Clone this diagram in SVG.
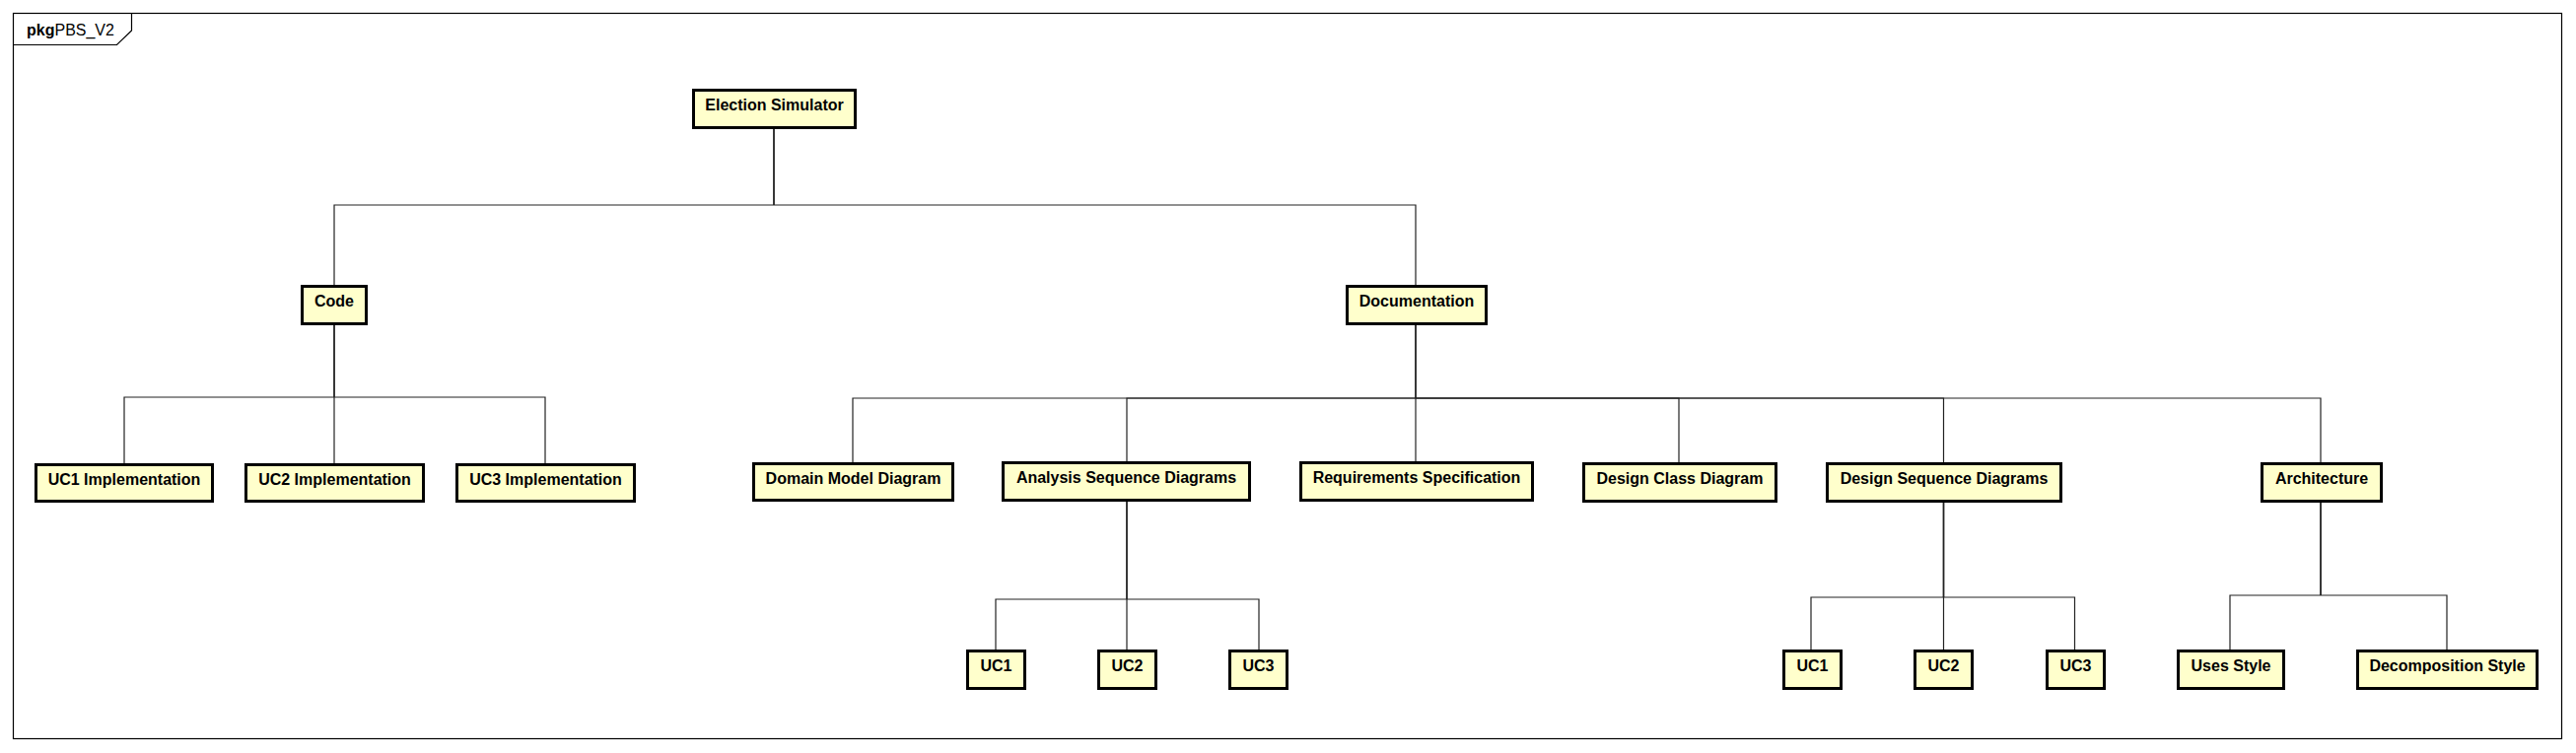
<svg xmlns="http://www.w3.org/2000/svg" width="2613" height="764" viewBox="0 0 2613 764">
<style>
.box rect{fill:#FFFFCC;stroke:#000;stroke-width:3}
.box text{font-family:"Liberation Sans",Arial,sans-serif;font-weight:bold;font-size:16px;fill:#000;text-anchor:middle}
.conn path{fill:none;stroke:#222;stroke-width:1.2}
.conn path.trunk{stroke-width:1.8}
.frame{fill:none;stroke:#000;stroke-width:1.2}
.ftext{font-family:"Liberation Sans",Arial,sans-serif;font-size:16px;fill:#000}
</style>
<rect width="2613" height="764" fill="#fff"/>
<g id="frame">
<rect class="frame" x="13.5" y="13.5" width="2585" height="736"/>
<path class="frame" d="M13.5,45.5 H118.5 L133.5,31 V13.5"/>
<text class="ftext" x="27" y="36"><tspan font-weight="bold">pkg</tspan>PBS_V2</text>
</g>
<g id="connectors" class="conn">
<path class="trunk" d="M785,131 V208"/>
<path d="M785,208 H339 V289"/>
<path d="M785,208 H1436 V289"/>
<path class="trunk" d="M339,330 V403"/>
<path d="M339,403 H126 V470"/>
<path d="M339,403 V470"/>
<path d="M339,403 H553 V470"/>
<path class="trunk" d="M1436,330 V404"/>
<path d="M1436,404 H865 V469"/>
<path d="M1436,404 H1143 V468"/>
<path d="M1436,404 V468"/>
<path d="M1436,404 H1703 V469"/>
<path d="M1436,404 H1971.5 V469"/>
<path d="M1436,404 H2354 V469"/>
<path class="trunk" d="M1143,509 V608"/>
<path d="M1143,608 H1010 V659"/>
<path d="M1143,608 V659"/>
<path d="M1143,608 H1277 V659"/>
<path class="trunk" d="M1971.5,510 V606"/>
<path d="M1971.5,606 H1837 V659"/>
<path d="M1971.5,606 V659"/>
<path d="M1971.5,606 H2104.5 V659"/>
<path class="trunk" d="M2354,510 V604"/>
<path d="M2354,604 H2262 V659"/>
<path d="M2354,604 H2482 V659"/>
</g>
<g id="election-simulator" class="box"><rect x="703.5" y="91.5" width="164" height="38"/><text x="785.5" y="112">Election Simulator</text></g>
<g id="code" class="box"><rect x="306.5" y="290.5" width="65" height="38"/><text x="339" y="311">Code</text></g>
<g id="documentation" class="box"><rect x="1366.5" y="290.5" width="141" height="38"/><text x="1437" y="311">Documentation</text></g>
<g id="uc1-implementation" class="box"><rect x="36.5" y="471.5" width="179" height="37"/><text x="126" y="492">UC1 Implementation</text></g>
<g id="uc2-implementation" class="box"><rect x="249.5" y="471.5" width="180" height="37"/><text x="339.5" y="492">UC2 Implementation</text></g>
<g id="uc3-implementation" class="box"><rect x="463.5" y="471.5" width="180" height="37"/><text x="553.5" y="492">UC3 Implementation</text></g>
<g id="domain-model-diagram" class="box"><rect x="764.5" y="470.5" width="202" height="37"/><text x="865.5" y="491">Domain Model Diagram</text></g>
<g id="analysis-sequence-diagrams" class="box"><rect x="1017.5" y="469.5" width="250" height="38"/><text x="1142.5" y="490">Analysis Sequence Diagrams</text></g>
<g id="requirements-specification" class="box"><rect x="1319.5" y="469.5" width="235" height="38"/><text x="1437" y="490">Requirements Specification</text></g>
<g id="design-class-diagram" class="box"><rect x="1606.5" y="470.5" width="195" height="38"/><text x="1704" y="491">Design Class Diagram</text></g>
<g id="design-sequence-diagrams" class="box"><rect x="1853.5" y="470.5" width="237" height="38"/><text x="1972" y="491">Design Sequence Diagrams</text></g>
<g id="architecture" class="box"><rect x="2294.5" y="470.5" width="121" height="38"/><text x="2355" y="491">Architecture</text></g>
<g id="analysis-uc1" class="box"><rect x="981.5" y="660.5" width="58" height="38"/><text x="1010.5" y="681">UC1</text></g>
<g id="analysis-uc2" class="box"><rect x="1114.5" y="660.5" width="58" height="38"/><text x="1143.5" y="681">UC2</text></g>
<g id="analysis-uc3" class="box"><rect x="1247.5" y="660.5" width="58" height="38"/><text x="1276.5" y="681">UC3</text></g>
<g id="design-uc1" class="box"><rect x="1809.5" y="660.5" width="58" height="38"/><text x="1838.5" y="681">UC1</text></g>
<g id="design-uc2" class="box"><rect x="1942.5" y="660.5" width="58" height="38"/><text x="1971.5" y="681">UC2</text></g>
<g id="design-uc3" class="box"><rect x="2076.5" y="660.5" width="58" height="38"/><text x="2105.5" y="681">UC3</text></g>
<g id="uses-style" class="box"><rect x="2209.5" y="660.5" width="107" height="38"/><text x="2263" y="681">Uses Style</text></g>
<g id="decomposition-style" class="box"><rect x="2391.5" y="660.5" width="182" height="38"/><text x="2482.5" y="681">Decomposition Style</text></g>
</svg>
